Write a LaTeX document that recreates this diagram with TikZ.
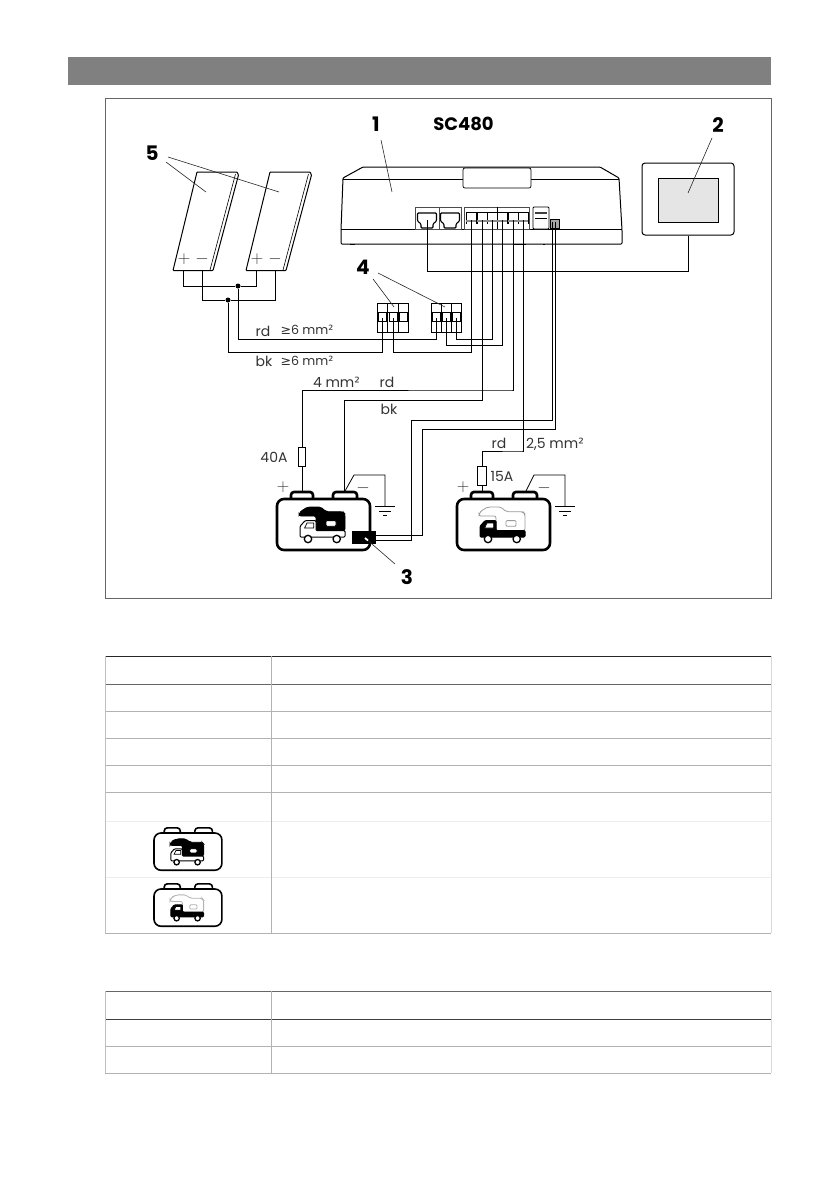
\documentclass[tikz,border=0pt]{standalone}
\usepackage{fontspec}
\usepackage{tikz}
\setmainfont{Poppins}
\newfontfamily\symfont{DejaVu Sans}

\tikzset{
    wire/.style = {draw, line width=1pt, black},
    thinline/.style = {draw, line width=0.8pt, black},
    leader/.style = {draw, line width=0.6pt, black!85},
    num/.style = {font=\bfseries\fontsize{20}{20}\selectfont, inner sep=0pt},
    txt/.style = {font=\fontsize{14}{14}\selectfont, inner sep=0pt, text=black!80},
    txtsmall/.style = {font=\fontsize{12.6}{13}\selectfont, inner sep=0pt, text=black!80},
    sign/.style = {font=\fontsize{17}{17}\selectfont, inner sep=0pt, text=black!80},
    dot/.style = {circle, fill=black, inner sep=0pt, minimum size=5pt},
    fuse/.style = {draw, line width=0.8pt, fill=white, inner sep=0pt, minimum width=7pt, minimum height=19pt},
    clamp/.style = {draw, line width=0.8pt, fill=white, inner sep=0pt, minimum width=10.3pt, minimum height=29pt},
    pics/battery/.style n args = {3}{code = {
        \draw[line width=#3, fill=white, rounded corners=3pt] (14,1) -- (14,-7) -- (36,-7) -- (36,1);
        \draw[line width=#3, fill=white, rounded corners=3pt] (56,1) -- (56,-7) -- (80,-7) -- (80,1);
        \draw[line width=#3, fill=white, rounded corners=7pt] (0,0) rectangle (93,51);
        % camper
        \path[fill=#1, draw=#2, line width=.8pt, rounded corners=2pt]
            (22,17) -- (22,14) -- (27,10) -- (31,8) -- (44,8) -- (49,12.7) -- (66,12.7) -- (68,15) -- (68,31.7) -- (39,31.7) -- (39,17) -- cycle;
        \draw[draw=#2, fill=white, line width=.8pt, rounded corners=1pt] (49,21.6) rectangle (59,27.3);
    }},
    pics/truck/.style n args = {2}{code = {
        \path[fill=#1, draw=black, line width=1pt, rounded corners=1pt]
            (23,38) -- (23,27.3) -- (28,21.7) -- (39,21.7) -- (39,31.7) -- (68,31.7) -- (68,38) -- cycle;
        \path[fill=#2, draw=black, line width=.7pt] (27.6,29) -- (30,24) -- (36.7,24) -- (36.7,29) -- cycle;
        \foreach \wx in {31,59.7} {
            \draw[line width=1.3pt, fill=white] (\wx,40) circle (3.7);
        }
    }},
}

\begin{document}
\begin{tikzpicture}[x=1pt, y=-1pt]
    \useasboundingbox (0,0) rectangle (839,1191);

    % header and frame
    \fill[black!50] (68,57) rectangle (771,85);
    \draw[line width=0.7pt, black!60] (105.5,98.5) rectangle (771,598);

    % controller
    \draw[line width=1pt, rounded corners=1pt] (343,178) -- (363,167) -- (600,167) -- (619,178) -- (622,230) -- (622,244) -- (341,244) -- (341,230) -- cycle;
    \draw[line width=.8pt] (343,179) -- (619,179);
    \draw[line width=.8pt] (341,229) -- (622,229);
    \node[draw, fill=white, line width=.7pt, rounded corners=2pt, minimum width=68pt, minimum height=20pt, inner sep=0pt] (window) at (497,178) {};
    \node[draw=black!70, fill=white, line width=.7pt, minimum width=46pt, minimum height=22pt, inner sep=0pt] (rjbox) at (438,218) {};
    \draw[line width=.7pt, black!70] (439,207) -- (439,229);
    \foreach \rx/\rn in {427/rja, 450/rjb} {
        \draw[line width=1.1pt, rounded corners=1pt] (\rx-9.5,213) -- (\rx+9.5,213) -- (\rx+9.5,221) -- (\rx+6,224) -- (\rx+6,228) -- (\rx-6,228) -- (\rx-6,224) -- (\rx-9.5,221) -- cycle;
        \coordinate (\rn) at (\rx,220);
    }
    \node[draw=black!70, fill=white, line width=.7pt, minimum width=65pt, minimum height=22pt, inner sep=0pt] (termbox) at (496.5,218) {};
    \draw[line width=.7pt] (497,207) -- (497,229);
    \foreach \tx/\tn in {471/ta, 482/tb, 492/tc, 502/td, 513/te, 523/tf} {
        \draw[line width=.8pt] (\tx-5,212) -- (\tx+5,212) (\tx-5,212) -- (\tx-5,224) (\tx+5,212) -- (\tx+5,224);
        \draw[line width=1.2pt, black!45] (\tx-5,221) -- (\tx+5,221);
        \coordinate (\tn) at (\tx,220);
    }
    \node[draw, fill=white, line width=.9pt, rounded corners=1pt, minimum width=16pt, minimum height=22pt, inner sep=0pt] (bus) at (541,218) {};
    \draw[line width=1.6pt, black!75] (535,213) -- (547,213);
    \draw[line width=.8pt] (535,218) -- (547,218);
    \node[draw, fill=black!35, line width=.9pt, minimum width=9.5pt, minimum height=9pt, inner sep=0pt] (sense) at (555,224) {};
    \coordinate (sa) at (552.3,222);
    \coordinate (sb) at (555.3,222);
    \fill (350,244) rectangle (355,244.6);
    \fill (514,244) rectangle (526,245.4);
    \fill (543,244) rectangle (545,245.4);

    % display
    \node[draw, line width=1pt, rounded corners=3pt, minimum width=92pt, minimum height=72pt, inner sep=0pt] (display) at (688,199) {};
    \node[draw, fill=black!10, line width=.8pt, minimum width=60pt, minimum height=44pt, inner sep=0pt] (screen) at (688,200) {};
    \coordinate (busa) at (427,271);
    \draw[wire] (rja) |- (busa) -| (display.south);

    % solar panels
    \foreach \sx/\pn/\mn in {0/pa/ma, 73/pb/mb} {
        \draw[line width=1pt, rounded corners=.7pt] (197+\sx,172) -- (237+\sx,172) -- (238.5+\sx,175) -- (213+\sx,270.5) -- (173+\sx,270.5) -- cycle;
        \draw[line width=.6pt] (235.5+\sx,174) -- (210+\sx,270);
        \coordinate (\pn) at (183.5+\sx,271);
        \coordinate (\mn) at (202+\sx,271);
        \node[sign] (plus\pn) at (184+\sx,259) {$+$};
        \node[sign] (minus\mn) at (202+\sx,259) {$-$};
    }
    \node[dot] (jrd) at (238,286) {};
    \node[dot] (jbk) at (228,300) {};
    \draw[wire] (pa) |- (jrd) -| (pb);
    \draw[wire] (ma) |- (jbk) -| (mb);

    % terminal blocks
    \foreach \bx/\bn in {382.5/ba, 393/bb, 403.5/bc, 436.5/bd, 446.5/be, 456.5/bf} {
        \node[clamp] (\bn) at (\bx,317.5) {};
        \draw[line width=.8pt] (\bx-5,312) -- (\bx+5,312);
        \draw[line width=.8pt, fill=white] (\bx-4,312) rectangle (\bx+4,321.5);
    }

    \coordinate (kab) at (238,339);
    \coordinate (kba) at (228,352);
    \coordinate (cross) at (393,352);
    \coordinate (lowe) at (446.5,345);
    \coordinate (lowf) at (456.5,339);
    \draw[wire] (jrd) |- (kab) -| (bd.center);
    \draw[wire] (jbk) |- (kba) -| (ba.center);
    \draw[wire] (bb.center) |- (cross) -| (ta);
    \draw[wire] (be.center) |- (lowe) -| (td);
    \draw[wire] (bf.center) |- (lowf) -| (tc);

    % batteries
    \pic at (277,499) {battery={black}{black}{2.6pt}};
    \pic at (277,499) {truck={white}{white}};
    \pic at (457,499) {battery={white}{black!40}{2.6pt}};
    \pic at (457,499) {truck={black}{white}};
    \coordinate (bat1p) at (302,492);
    \coordinate (bat1m) at (344,492);
    \coordinate (bat2p) at (482,492);
    \node[draw, fill=black, inner sep=0pt, minimum width=23pt, minimum height=12pt] (shunt) at (363.5,537) {};

    \node[fuse] (fuse40) at (302,456.5) {};
    \node[fuse, minimum width=8.5pt] (fuse15) at (482,475.5) {};
    \coordinate (wa) at (481.7,400.5);
    \coordinate (wb) at (512,390);
    \coordinate (wc) at (522,451);
    \coordinate (wd) at (411,420);
    \coordinate (we) at (422,429);
    \draw[wire] (tb) |- (wa) -| (bat1m);
    \draw[wire] (te) |- (wb) -| (fuse40.north);
    \draw[wire] (fuse40.south) -- (bat1p);
    \draw[wire] (tf) |- (wc) -| (fuse15.north);
    \draw[wire] (fuse15.south) -- (bat2p);
    \draw[wire] (sa) |- (wd) |- ([yshift=-3pt]shunt.east);
    \draw[wire] (sb) |- (we) |- ([yshift=2pt]shunt.east);

    % ground wires
    \foreach \gx/\gn/\ex in {354/gnda/345, 534/gndb/526} {
        \coordinate (\gn) at (\gx+31,506);
        \coordinate (\gn t) at (\gx,475);
        \draw[thinline] (\ex,491) -- (\gn t) -| (\gn);
        \draw[line width=.9pt] (\gx+21,506) -- (\gx+41,506);
        \draw[line width=.9pt] (\gx+25,511) -- (\gx+37,511);
        \draw[line width=.9pt] (\gx+29,515.5) -- (\gx+33,515.5);
    }
    \node[sign] (bat1plus) at (283,487) {$+$};
    \node[sign] (bat1minus) at (363,488) {$-$};
    \node[sign] (bat2plus) at (463,487) {$+$};
    \node[sign] (bat2minus) at (544,488) {$-$};

    % labels
    \node[num] (n1) at (376,124) {1};
    \node[num, font=\bfseries\fontsize{18}{18}\selectfont] (sc) at (463.5,124) {SC480};
    \node[num] (n2) at (718,125) {2};
    \node[num] (n3) at (407,577) {3};
    \node[num] (n4) at (363,267) {4};
    \node[num] (n5) at (152,153) {5};
    \coordinate (p1) at (392,192);
    \coordinate (p2) at (688,193);
    \coordinate (p5a) at (206,192);
    \coordinate (p5b) at (279,192);
    \coordinate (p4a) at (394,307);
    \coordinate (p4b) at (445,307);
    \coordinate (p3) at (365,538);
    \draw[leader] (n1) ++(5,16) -- (p1);
    \draw[leader] (n2) ++(-6,13) -- (p2);
    \draw[leader] (n5) ++(14,9) -- (p5a);
    \draw[leader] (n5) ++(16,4) -- (p5b);
    \draw[leader] (n4) ++(10,12) -- (p4a);
    \draw[leader] (n4) ++(15,6) -- (p4b);
    \draw[leader] (n3) ++(-12,-13) -- (p3);
    \draw[white, line width=1.8pt] (368,540.5) -- (p3);

    \node[txt] (rd1) at (263,331) {rd};
    \node[txtsmall] (sq1) at (307,330) {{\symfont≥}6 mm{\symfont²}};
    \node[txt] (bk1) at (264,361) {bk};
    \node[txtsmall] (sq2) at (307,361) {{\symfont≥}6 mm{\symfont²}};
    \node[txt] (sq3) at (336.5,382) {4 mm{\symfont²}};
    \node[txt] (rd2) at (387,382) {rd};
    \node[txt] (bk2) at (389,409) {bk};
    \node[txt] (a40) at (274,457) {40A};
    \node[txt] (rd3) at (499,443) {rd};
    \node[txt] (sq4) at (555,444) {2,5 mm{\symfont²}};
    \node[txt] (a15) at (502,476) {15A};

    % tables
    \foreach \ty/\tc in {656/black!85, 684/black!60, 711/black!30, 738/black!30, 765/black!30, 792/black!30, 821/black!7, 877/black!7, 933/black!30, 991/black!60, 1019/black!75, 1046/black!30, 1073/black!30} {
        \draw[line width=.8pt, draw=\tc] (105,\ty) -- (771,\ty);
    }
    \foreach \cx/\tc in {105/black!25, 271/black!30, 771/black!15} {
        \draw[line width=.8pt, \tc] (\cx,656) -- (\cx,933);
        \draw[line width=.8pt, \tc] (\cx,991) -- (\cx,1073);
    }
    \pic[scale=.73] at (154,833) {battery={black}{black}{1.6pt}};
    \pic[scale=.73] at (154,833) {truck={white}{white}};
    \pic[scale=.73] at (154,889) {battery={white}{black!30}{1.6pt}};
    \pic[scale=.73] at (154,889) {truck={black}{white}};
\end{tikzpicture}
\end{document}
